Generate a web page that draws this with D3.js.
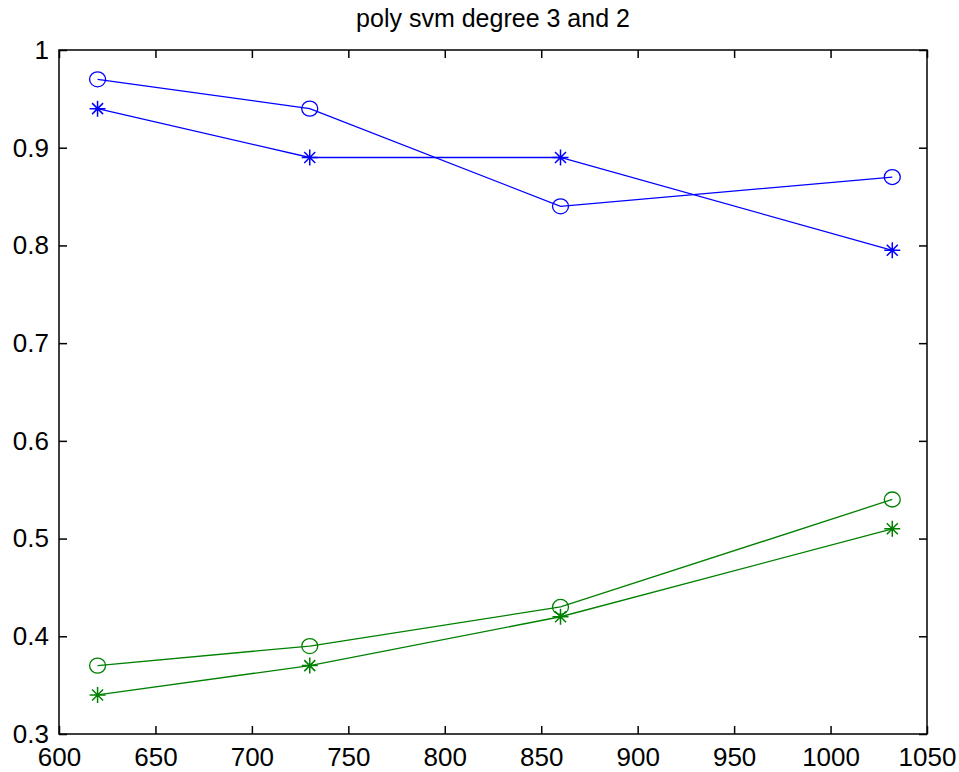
<!DOCTYPE html>
<html>
<head>
<meta charset="utf-8">
<script src="https://cdn.jsdelivr.net/npm/d3@7/dist/d3.min.js"></script>
<style>
  html, body { margin: 0; padding: 0; background: #fff; }
  svg { display: block; }
  text { font-family: "Liberation Sans", Arial, sans-serif; fill: #000; }
</style>
</head>
<body>
<svg id="chart" width="959" height="772"></svg>
<script>
// Training-set sizes on the x axis
const sizes = [620, 730, 860, 1032];

// Degree 3 kernel (blue) and degree 2 kernel (green) scores
const blueCircle = [0.97, 0.94, 0.84, 0.87];
const blueStar   = [0.94, 0.89, 0.89, 0.795];
const greenCircle = [0.37, 0.39, 0.43, 0.54];
const greenStar   = [0.34, 0.37, 0.42, 0.51];

const xTicks = [600, 650, 700, 750, 800, 850, 900, 950, 1000, 1050];
const yTicks = [0.3, 0.4, 0.5, 0.6, 0.7, 0.8, 0.9, 1];

const titleText = "poly svm degree 3 and 2";

const series = [
  { values: blueCircle, color: "#0000ff", marker: "circle" },
  { values: blueStar, color: "#0000ff", marker: "star" },
  { values: greenCircle, color: "#008000", marker: "circle" },
  { values: greenStar, color: "#008000", marker: "star" }
];

const svg = d3.select("#chart");
const box = { left: 59, top: 50, right: 927, bottom: 734 };

const x = d3.scaleLinear().domain([600, 1050]).range([box.left, box.right]);
const y = d3.scaleLinear().domain([0.3, 1]).range([box.bottom, box.top]);

const tickLen = 8;
const fmtY = d => String(+d.toFixed(1));

// Bottom axis with labels, ticks pointing into the plot
const gx = svg.append("g").attr("transform", `translate(0,${box.bottom})`)
  .call(d3.axisBottom(x).tickValues(xTicks).tickSizeInner(-tickLen).tickSizeOuter(0).tickPadding(16).tickFormat(d3.format("d")));
// Left axis with labels
const gy = svg.append("g").attr("transform", `translate(${box.left},0)`)
  .call(d3.axisLeft(y).tickValues(yTicks).tickSizeInner(-tickLen).tickSizeOuter(0).tickPadding(10).tickFormat(fmtY));
// Top and right: ticks only
const gxt = svg.append("g").attr("transform", `translate(0,${box.top})`)
  .call(d3.axisTop(x).tickValues(xTicks).tickSizeInner(-tickLen).tickSizeOuter(0).tickFormat(""));
const gyr = svg.append("g").attr("transform", `translate(${box.right},0)`)
  .call(d3.axisRight(y).tickValues(yTicks).tickSizeInner(-tickLen).tickSizeOuter(0).tickFormat(""));

[gx, gy, gxt, gyr].forEach(g => {
  g.select(".domain").remove();
  g.selectAll(".tick line").attr("stroke", "#000").attr("stroke-width", 1.5);
  g.selectAll(".tick text").style("font-size", "26px").attr("fill", "#000");
});
gx.selectAll(".tick text").attr("dy", "0.6em");

// Plot frame
svg.append("rect")
  .attr("x", box.left).attr("y", box.top)
  .attr("width", box.right - box.left).attr("height", box.bottom - box.top)
  .attr("fill", "none").attr("stroke", "#000").attr("stroke-width", 1.5);

// Title
svg.append("text")
  .attr("x", (box.left + box.right) / 2).attr("y", 27)
  .attr("text-anchor", "middle")
  .style("font-size", "25px")
  .text(titleText);

const line = d3.line().x((d, i) => x(sizes[i])).y(d => y(d));

// Star glyph: plus overlaid with a diagonal cross
function starPath(cx, cy) {
  const p = d3.path();
  const a = 8, b = 5.5;
  p.moveTo(cx - a, cy); p.lineTo(cx + a, cy);
  p.moveTo(cx, cy - a); p.lineTo(cx, cy + a);
  p.moveTo(cx - b, cy - b); p.lineTo(cx + b, cy + b);
  p.moveTo(cx - b, cy + b); p.lineTo(cx + b, cy - b);
  return p.toString();
}

series.forEach(s => {
  const g = svg.append("g");
  g.append("path")
    .attr("d", line(s.values))
    .attr("fill", "none")
    .attr("stroke", s.color)
    .attr("stroke-width", 1.3);
  if (s.marker === "circle") {
    g.selectAll("ellipse").data(s.values).join("ellipse")
      .attr("cx", (d, i) => x(sizes[i]))
      .attr("cy", d => y(d))
      .attr("rx", 8).attr("ry", 7.5)
      .attr("fill", "none")
      .attr("stroke", s.color)
      .attr("stroke-width", 1.3);
  } else {
    g.selectAll("path.star").data(s.values).join("path")
      .attr("class", "star")
      .attr("d", (d, i) => starPath(x(sizes[i]), y(d)))
      .attr("fill", "none")
      .attr("stroke", s.color)
      .attr("stroke-width", 1.5);
  }
});
</script>
</body>
</html>
